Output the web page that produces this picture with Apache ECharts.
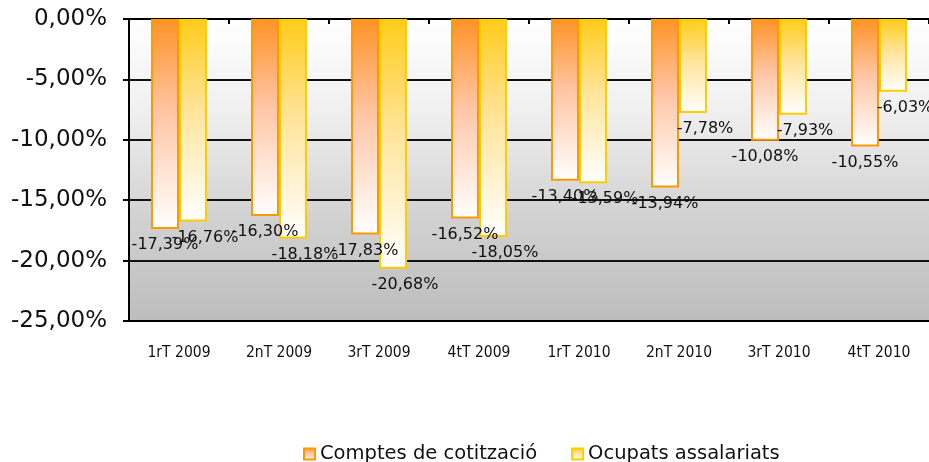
<!DOCTYPE html>
<html>
<head>
<meta charset="utf-8">
<script src="https://cdn.jsdelivr.net/npm/echarts@6/dist/echarts.min.js"></script>
<style>
    html, body { margin: 0; padding: 0; background: #fff; }
    #chartDiv { width: 929px; height: 462px; }
</style>
</head>
<body>
<div id="chartDiv"></div>
<script>
// dades
var categories = ['1rT 2009', '2nT 2009', '3rT 2009', '4tT 2009', '1rT 2010', '2nT 2010', '3rT 2010', '4tT 2010'];
var comptes = [-17.39, -16.30, -17.83, -16.52, -13.40, -13.94, -10.08, -10.55];
var ocupats = [-16.76, -18.18, -20.68, -18.05, -13.59, -7.78, -7.93, -6.03];
var seriesNames = ['Comptes de cotització', 'Ocupats assalariats'];

function pct(v) {
    return v.toFixed(2).replace('.', ',') + '%';
}

function grad(top, mid) {
    return new echarts.graphic.LinearGradient(0, 0, 0, 1, [
        {offset: 0, color: top},
        {offset: 0.45, color: mid},
        {offset: 1, color: '#ffffff'}
    ]);
}

var chart = echarts.init(document.getElementById('chartDiv'));

var labelStyle = {
    show: true,
    position: 'bottom',
    distance: 8,
    fontFamily: 'DejaVu Sans',
    fontSize: 16,
    color: '#111',
    formatter: function (p) { return pct(p.value); }
};

var option = {
    animation: false,
    textStyle: {fontFamily: 'DejaVu Sans'},
    grid: {
        left: 129, top: 19, width: 800, height: 302,
        show: true,
        borderWidth: 0,
        backgroundColor: new echarts.graphic.LinearGradient(0, 0, 0, 1, [
            {offset: 0, color: '#ffffff'},
            {offset: 0.3, color: '#f0f0f0'},
            {offset: 0.65, color: '#d2d2d2'},
            {offset: 1, color: '#bdbdbd'}
        ])
    },
    legend: {
        top: 439,
        left: 298,
        itemWidth: 11,
        itemHeight: 11,
        itemGap: 34,
        icon: 'rect',
        textStyle: {fontFamily: 'DejaVu Sans', fontSize: 19.5, color: '#111'},
        data: seriesNames
    },
    xAxis: [{
        type: 'category',
        data: categories,
        position: 'bottom',
        axisLine: {show: true, onZero: false, lineStyle: {color: '#000', width: 2}},
        axisTick: {show: false},
        axisLabel: {margin: 24, fontFamily: 'DejaVu Sans Condensed', fontSize: 15.5, color: '#111'}
    }, {
        type: 'category',
        data: categories,
        position: 'top',
        axisLine: {show: true, lineStyle: {color: '#000', width: 2}},
        axisTick: {show: true, inside: true, length: 5, lineStyle: {color: '#000', width: 2}},
        axisLabel: {show: false}
    }],
    yAxis: {
        type: 'value',
        min: -25,
        max: 0,
        interval: 5,
        axisLine: {show: true, lineStyle: {color: '#000', width: 2}},
        axisTick: {show: true, length: 6, lineStyle: {color: '#000', width: 2}},
        splitLine: {lineStyle: {color: '#111', width: 2}},
        axisLabel: {margin: 22, fontFamily: 'DejaVu Sans', fontSize: 23, color: '#111', formatter: pct}
    },
    series: [{
        name: seriesNames[0],
        type: 'bar',
        data: comptes,
        barWidth: 28,
        barGap: '0%',
        itemStyle: {color: grad('#ff9326', '#ffc6a6'), borderColor: '#ff9900', borderWidth: 2},
        label: labelStyle
    }, {
        name: seriesNames[1],
        type: 'bar',
        data: ocupats,
        barWidth: 28,
        barGap: '0%',
        itemStyle: {color: grad('#ffcc1a', '#ffe49a'), borderColor: '#ffcc00', borderWidth: 2},
        label: Object.assign({}, labelStyle, {offset: [12, 0]})
    }]
};

chart.setOption(option);
</script>
</body>
</html>
